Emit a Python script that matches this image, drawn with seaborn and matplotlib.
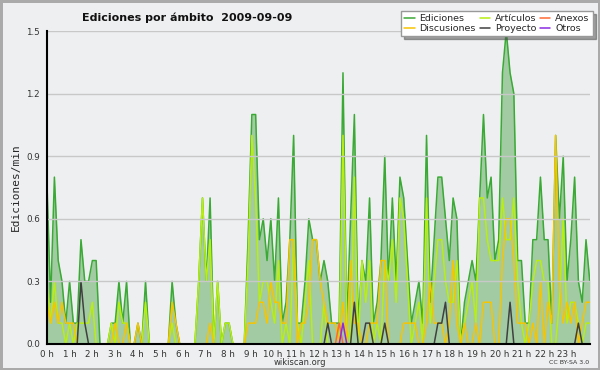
import numpy as np
import pandas as pd
import matplotlib
matplotlib.use("Agg")
import matplotlib.pyplot as plt
import seaborn as sns
from matplotlib.ticker import MultipleLocator, FixedLocator

# edits per minute, one value every 10 minutes (two hours per row)
ediciones = [
    0.8, 0.2, 0.8, 0.4, 0.3, 0.1,  0.3, 0.1, 0.1, 0.5, 0.3, 0.3,
    0.4, 0.4, 0.0, 0.0, 0.0, 0.1,  0.1, 0.3, 0.1, 0.3, 0.0, 0.0,
    0.1, 0.0, 0.3, 0.0, 0.0, 0.0,  0.0, 0.0, 0.0, 0.3, 0.1, 0.0,
    0.0, 0.0, 0.0, 0.0, 0.3, 0.7,  0.3, 0.7, 0.0, 0.3, 0.0, 0.1,
    0.1, 0.0, 0.0, 0.0, 0.0, 0.5,  1.1, 1.1, 0.5, 0.6, 0.4, 0.6,
    0.3, 0.7, 0.1, 0.2, 0.5, 1.0,  0.1, 0.1, 0.3, 0.6, 0.5, 0.5,
    0.3, 0.4, 0.3, 0.1, 0.1, 0.1,  1.3, 0.1, 0.6, 1.1, 0.1, 0.4,
    0.3, 0.7, 0.1, 0.2, 0.4, 0.9,  0.3, 0.7, 0.3, 0.8, 0.7, 0.4,
    0.1, 0.2, 0.3, 0.1, 1.0, 0.2,  0.5, 0.8, 0.8, 0.6, 0.4, 0.7,
    0.6, 0.0, 0.2, 0.3, 0.4, 0.3,  0.7, 1.1, 0.7, 0.8, 0.4, 0.5,
    1.3, 1.5, 1.3, 1.2, 0.4, 0.4,  0.1, 0.1, 0.5, 0.5, 0.8, 0.5,
    0.5, 0.1, 1.0, 0.6, 0.9, 0.3,  0.5, 0.8, 0.3, 0.2, 0.5, 0.3,
]
articulos = [
    0.3, 0.1, 0.3, 0.1, 0.1, 0.0,  0.1, 0.0, 0.1, 0.1, 0.1, 0.1,
    0.2, 0.0, 0.0, 0.0, 0.0, 0.1,  0.0, 0.2, 0.1, 0.1, 0.0, 0.0,
    0.0, 0.0, 0.2, 0.0, 0.0, 0.0,  0.0, 0.0, 0.0, 0.1, 0.0, 0.0,
    0.0, 0.0, 0.0, 0.0, 0.3, 0.7,  0.3, 0.5, 0.0, 0.3, 0.0, 0.1,
    0.1, 0.0, 0.0, 0.0, 0.0, 0.4,  1.0, 0.7, 0.2, 0.3, 0.3, 0.2,
    0.1, 0.4, 0.0, 0.1, 0.0, 0.5,  0.1, 0.0, 0.2, 0.4, 0.0, 0.0,
    0.0, 0.2, 0.0, 0.0, 0.0, 0.0,  1.0, 0.1, 0.0, 0.8, 0.0, 0.4,
    0.2, 0.4, 0.0, 0.1, 0.0, 0.4,  0.3, 0.5, 0.2, 0.7, 0.6, 0.3,
    0.0, 0.1, 0.2, 0.0, 0.7, 0.1,  0.3, 0.5, 0.5, 0.3, 0.2, 0.2,
    0.4, 0.0, 0.1, 0.2, 0.3, 0.1,  0.7, 0.7, 0.5, 0.4, 0.4, 0.4,
    0.7, 0.5, 0.5, 0.7, 0.3, 0.1,  0.0, 0.1, 0.3, 0.4, 0.4, 0.3,
    0.3, 0.0, 0.0, 0.2, 0.6, 0.1,  0.2, 0.2, 0.1, 0.0, 0.1, 0.1,
]
discusiones = [
    0.2, 0.1, 0.2, 0.1, 0.2, 0.1,  0.1, 0.1, 0.0, 0.0, 0.0, 0.0,
    0.0, 0.0, 0.0, 0.0, 0.0, 0.0,  0.1, 0.0, 0.0, 0.1, 0.0, 0.0,
    0.1, 0.0, 0.0, 0.0, 0.0, 0.0,  0.0, 0.0, 0.0, 0.2, 0.1, 0.0,
    0.0, 0.0, 0.0, 0.0, 0.0, 0.0,  0.0, 0.1, 0.0, 0.0, 0.0, 0.0,
    0.0, 0.0, 0.0, 0.0, 0.0, 0.1,  0.1, 0.1, 0.2, 0.2, 0.1, 0.3,
    0.2, 0.2, 0.1, 0.1, 0.5, 0.5,  0.0, 0.1, 0.1, 0.2, 0.5, 0.5,
    0.3, 0.2, 0.1, 0.1, 0.1, 0.0,  0.2, 0.0, 0.4, 0.1, 0.1, 0.0,
    0.0, 0.1, 0.1, 0.1, 0.4, 0.4,  0.0, 0.0, 0.0, 0.0, 0.1, 0.1,
    0.1, 0.1, 0.0, 0.0, 0.1, 0.3,  0.1, 0.1, 0.1, 0.0, 0.1, 0.4,
    0.1, 0.0, 0.1, 0.0, 0.0, 0.1,  0.0, 0.2, 0.2, 0.2, 0.0, 0.0,
    0.4, 0.6, 0.6, 0.4, 0.1, 0.1,  0.1, 0.0, 0.1, 0.0, 0.3, 0.0,
    0.2, 0.1, 1.0, 0.3, 0.1, 0.2,  0.1, 0.2, 0.0, 0.1, 0.2, 0.2,
]
# sparse series: {slot index: value}
proyecto_pts = {9: 0.3, 10: 0.1, 74: 0.1, 81: 0.2, 84: 0.1, 85: 0.1, 89: 0.1,
                103: 0.1, 104: 0.1, 105: 0.2, 122: 0.2, 140: 0.1}
anexos_pts = {77: 0.1}
otros_pts = {78: 0.1}

n = len(ediciones)
proyecto = [proyecto_pts.get(i, 0.0) for i in range(n)]
anexos = [anexos_pts.get(i, 0.0) for i in range(n)]
otros = [otros_pts.get(i, 0.0) for i in range(n)]

hours = np.linspace(0, 24, n)
df = pd.DataFrame({"hora": hours, "Ediciones": ediciones, "Artículos": articulos,
                   "Discusiones": discusiones, "Proyecto": proyecto,
                   "Anexos": anexos, "Otros": otros})

bg = "#eeeff1"
sns.set_style("white")
plt.rcParams["font.family"] = ["DejaVu Sans"]

fig = plt.figure(figsize=(6, 3.7), dpi=100, facecolor=bg)
fig.patch.set_edgecolor("#aaaaaa")
fig.patch.set_linewidth(2.5)
ax = fig.add_axes([0.078, 0.0703, 0.905, 0.8457])
ax.set_facecolor(bg)

ax.fill_between(df["hora"], df["Ediciones"], color="#3a9a3a", alpha=0.42, lw=0, zorder=1)
colors = {"Ediciones": "#3aaa35", "Artículos": "#b8ee10", "Discusiones": "#f7c400",
          "Proyecto": "#404040", "Anexos": "#ff6a33", "Otros": "#8a2be2"}
for name in ["Ediciones", "Artículos", "Discusiones", "Proyecto", "Anexos", "Otros"]:
    sns.lineplot(data=df, x="hora", y=name, ax=ax, color=colors[name], lw=1.1,
                 label=name, zorder=2)

ax.set_xlim(0, 24)
ax.set_ylim(0, 1.5)
ax.yaxis.set_major_locator(FixedLocator([0, 0.3, 0.6, 0.9, 1.2, 1.5]))
ax.set_yticklabels(["0.0", "0.3", "0.6", "0.9", "1.2", "1.5"])
ax.yaxis.set_minor_locator(MultipleLocator(0.1))
ax.xaxis.set_major_locator(FixedLocator(range(24)))
ax.set_xticklabels([f"{h} h" for h in range(24)])
ax.xaxis.set_minor_locator(MultipleLocator(1 / 6))
ax.tick_params(axis="both", which="major", direction="out", length=4, width=1,
               labelsize=6.3, colors="#222222", pad=1, labelcolor="#333333")
ax.tick_params(axis="x", which="major", pad=0.5)
ax.tick_params(axis="both", which="minor", direction="out", length=3, width=1, colors="#222222")
ax.grid(axis="y", color="#c8c8c8", lw=1, zorder=3)
ax.set_axisbelow(False)
for s in ["top", "right"]:
    ax.spines[s].set_visible(False)
for s in ["left", "bottom"]:
    ax.spines[s].set_color("black")
    ax.spines[s].set_linewidth(1.5)
    ax.spines[s].set_zorder(4)

ax.set_xlabel("")
ax.set_ylabel("Ediciones/min", fontsize=8, family="DejaVu Sans Mono", labelpad=4)

# legend: column-wise fill gives the reference's two rows
order = ["Ediciones", "Discusiones", "Artículos", "Proyecto", "Anexos", "Otros"]
handles, labels = ax.get_legend_handles_labels()
hmap = dict(zip(labels, handles))
ax.legend([hmap[k] for k in order], order, ncol=3, fontsize=6.8,
          loc="upper right", bbox_to_anchor=(0.988, 0.97), bbox_transform=fig.transFigure,
          frameon=True, fancybox=False, shadow=True, edgecolor="#999999",
          facecolor="white", framealpha=1, borderpad=0.35, handlelength=1.1,
          handletextpad=0.5, columnspacing=0.4, labelspacing=0.05, borderaxespad=0)

fig.text(0.312, 0.953, "Ediciones por ámbito  2009-09-09", ha="center", va="center",
         fontsize=8, fontweight="bold", color="#111111")
fig.text(0.5, 0.02, "wikiscan.org", ha="center", va="center", fontsize=6, color="#333333")
fig.text(0.982, 0.02, "CC BY-SA 3.0", ha="right", va="center", fontsize=4.5, color="#333333")

fig.savefig("out.png", dpi=100, facecolor=fig.get_facecolor(), edgecolor=fig.get_edgecolor())
